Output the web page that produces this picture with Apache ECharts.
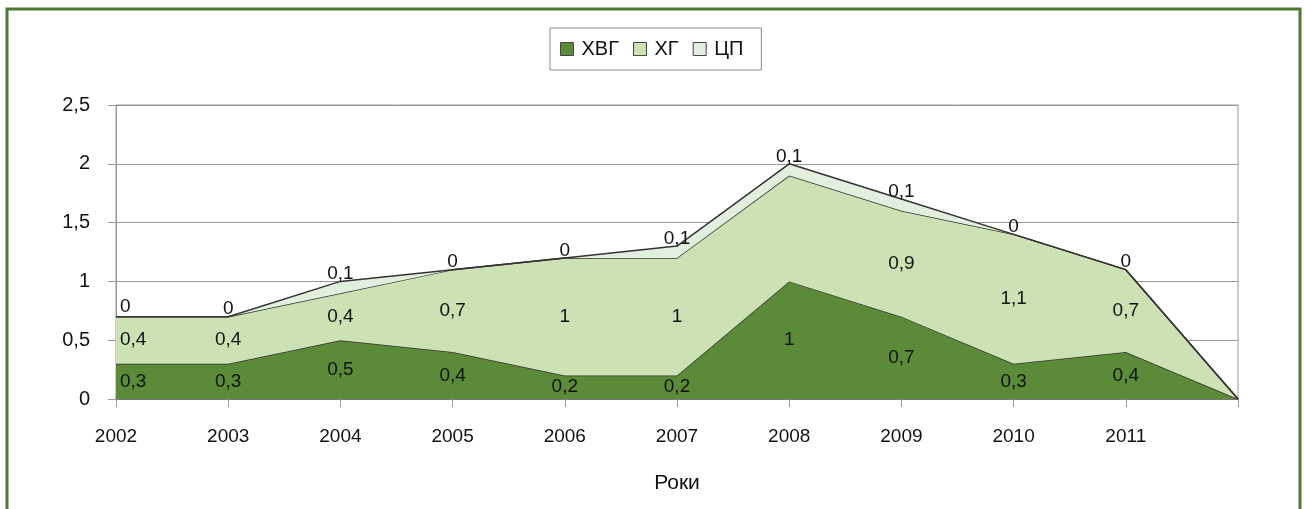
<!DOCTYPE html>
<html>
<head>
<meta charset="utf-8">
<script src="https://cdn.jsdelivr.net/npm/echarts@6/dist/echarts.min.js"></script>
<style>
html,body{margin:0;padding:0;background:#fff;}
#chart{width:1304px;height:509px;}
</style>
</head>
<body>
<div id="chart"></div>
<script>
const categories = ['2002','2003','2004','2005','2006','2007','2008','2009','2010','2011',''];
const seriesNames = ['ХВГ','ХГ','ЦП'];
const hvg = [0.3,0.3,0.5,0.4,0.2,0.2,1,0.7,0.3,0.4,0];
const hg  = [0.4,0.4,0.4,0.7,1,1,0.9,0.9,1.1,0.7,0];
const cp  = [0,0,0.1,0,0,0.1,0.1,0.1,0,0,0];
const yTickValues = [0,0.5,1,1.5,2,2.5];
const labeledCount = 10;           // last (empty) category carries no labels
const hiddenHgLabels = [6];        // 2008 ХГ label not shown in the reference

const colors = ['#5b8b38','#cce2b4','#e2efde'];
const FONT = "'Liberation Sans', Arial, sans-serif";
const fmt = v => String(v).replace('.', ',');

const all = [hvg, hg, cp];
function labelSeries(k){
  const data = [];
  for (let i = 0; i < labeledCount; i++){
    if (k === 1 && hiddenHgLabels.includes(i)) continue;
    let base = 0;
    for (let j = 0; j < k; j++) base += all[j][i];
    const v = all[k][i];
    const y = k === 2 ? base + v : base + v / 2;
    const item = {value:[i, y], raw:v};
    if (i === 0) item.label = k === 2 ? {position:[4,-19]} : {position:'right', distance:4};
    data.push(item);
  }
  return {
    type:'scatter', symbolSize:0, silent:true, z:10,
    itemStyle:{opacity:1},
    data,
    label:{
      show:true,
      position: k === 2 ? 'top' : 'inside',
      distance: k === 2 ? -2 : 0,
      formatter: p => fmt(p.data.raw),
      color:'#111', opacity:1, fontSize:19, fontFamily:FONT
    },
    tooltip:{show:false}
  };
}

const chart = echarts.init(document.getElementById('chart'), null, {renderer:'canvas'});
chart.setOption({
  animation:false,
  backgroundColor:'#fff',
  textStyle:{fontFamily:FONT},
  graphic:[{
    type:'rect', silent:true, z:100,
    shape:{x:7, y:9, width:1293, height:530},
    style:{fill:'none', stroke:'#4b7a34', lineWidth:3}
  }],
  legend:{
    data:seriesNames,
    left:550, top:28,
    padding:[11,18,11,10],
    borderColor:'#888', borderWidth:1,
    icon:'rect', itemWidth:13, itemHeight:13, itemGap:14,
    itemStyle:{borderColor:'#444', borderWidth:1},
    textStyle:{fontSize:20, color:'#111', fontFamily:FONT, padding:[0,0,0,3]}
  },
  grid:{left:116, right:66, top:105, bottom:110, show:true, borderColor:'#999', borderWidth:1, backgroundColor:'transparent'},
  xAxis:{
    type:'category', data:categories, boundaryGap:false,
    name:'Роки', nameLocation:'middle', nameGap:74,
    nameTextStyle:{fontSize:21, color:'#111', fontFamily:FONT},
    axisLine:{lineStyle:{color:'#777', width:2}},
    axisTick:{show:true, length:8, lineStyle:{color:'#999'}},
    axisLabel:{fontSize:19, color:'#111', margin:28, fontFamily:FONT},
    splitLine:{show:false}
  },
  yAxis:{
    type:'value', min:yTickValues[0], max:yTickValues[yTickValues.length-1], interval:0.5,
    axisLine:{show:true, lineStyle:{color:'#999'}},
    axisTick:{show:true, length:8, lineStyle:{color:'#999'}},
    axisLabel:{fontSize:20, color:'#111', margin:26, fontFamily:FONT, formatter:v => fmt(v)},
    splitLine:{lineStyle:{color:'#999', width:1}}
  },
  series:[
    ...all.map((arr,k) => ({
      name:seriesNames[k], type:'line', stack:'total', data:arr,
      showSymbol:false, symbol:'none',
      itemStyle:{color:colors[k]},
      lineStyle:{color:'#333', width:1.5},
      areaStyle:{color:colors[k], opacity:1},
      z:2+k
    })),
    labelSeries(0), labelSeries(1), labelSeries(2)
  ]
});
</script>
</body>
</html>
